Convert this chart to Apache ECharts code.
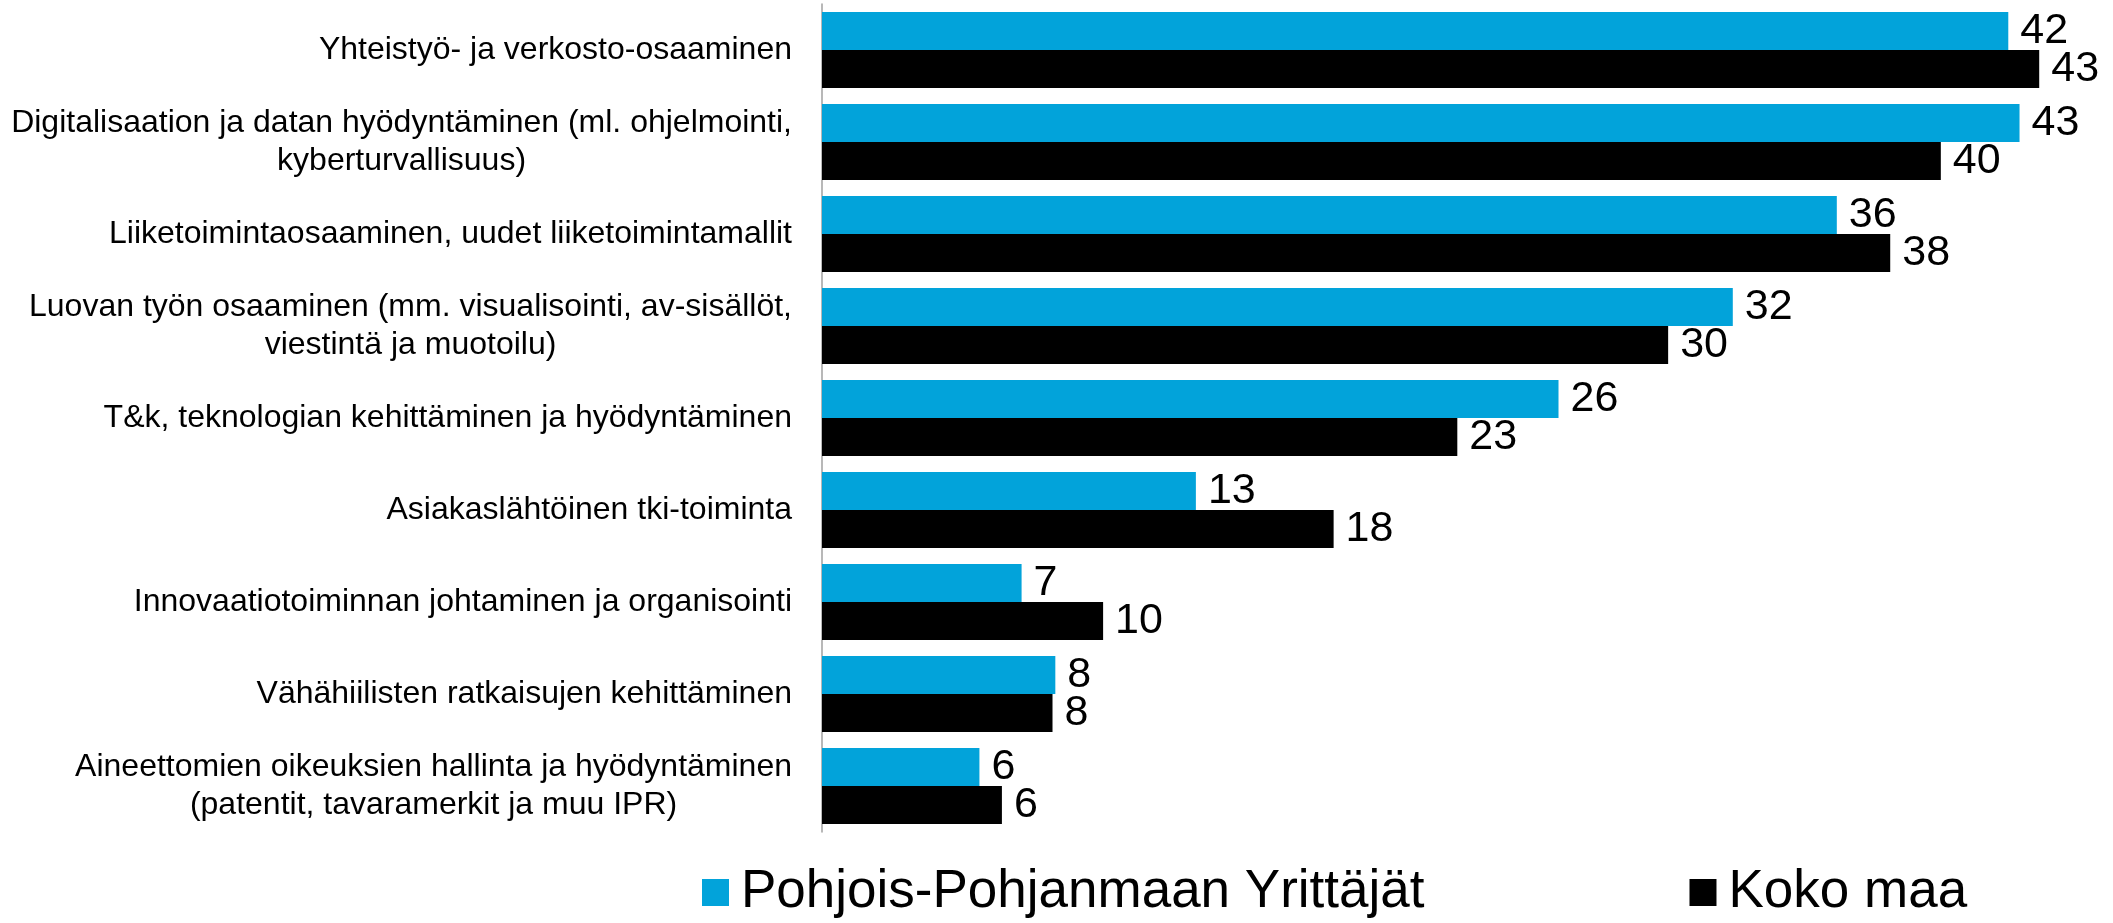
<!DOCTYPE html>
<html>
<head>
<meta charset="utf-8">
<script src="https://cdn.jsdelivr.net/npm/echarts@6/dist/echarts.min.js"></script>
<style>
  html, body { margin: 0; padding: 0; background: #fff; }
  #main { width: 2113px; height: 923px; }
</style>
</head>
<body>
<div id="main"></div>
<script>
// kategoriat ylhäältä alas
var categories = [
  'Yhteistyö- ja verkosto-osaaminen',
  'Digitalisaation ja datan hyödyntäminen (ml. ohjelmointi,\nkyberturvallisuus)',
  'Liiketoimintaosaaminen, uudet liiketoimintamallit',
  'Luovan työn osaaminen (mm. visualisointi, av-sisällöt,\nviestintä ja muotoilu)',
  'T&k, teknologian kehittäminen ja hyödyntäminen',
  'Asiakaslähtöinen tki-toiminta',
  'Innovaatiotoiminnan johtaminen ja organisointi',
  'Vähähiilisten ratkaisujen kehittäminen',
  'Aineettomien oikeuksien hallinta ja hyödyntäminen\n(patentit, tavaramerkit ja muu IPR)'
];
var seriesNames = ['Pohjois-Pohjanmaan Yrittäjät', 'Koko maa'];
var pohjois = [42.2, 42.6, 36.1, 32.4, 26.2, 13.3, 7.1, 8.3, 5.6];
var kokoMaa = [43.3, 39.8, 38.0, 30.1, 22.6, 18.2, 10.0, 8.2, 6.4];

var font = 'Arial, "Liberation Sans", sans-serif';

var myChart = echarts.init(document.getElementById('main'));

function valueLabel() {
    return {
        show: true,
        position: 'right',
        distance: 12,
        fontSize: 43,
        fontFamily: font,
        color: '#000',
        formatter: function (p) { return Math.round(p.value); }
    };
}

myChart.setOption({
    animation: false,
    grid: {
        left: 822, right: 26, top: 4, bottom: 91,
        containLabel: false,
        outerBoundsMode: 'none'
    },
    legend: {
        data: seriesNames,
        left: 697,
        top: 861,
        icon: 'rect',
        itemWidth: 27,
        itemHeight: 27,
        itemGap: 265,
        textStyle: {
            fontSize: 53,
            fontFamily: font,
            color: '#000',
            padding: [0, 0, 0, 7]
        }
    },
    xAxis: {
        type: 'value',
        min: 0,
        max: 45,
        show: false
    },
    yAxis: {
        type: 'category',
        inverse: true,
        data: categories,
        axisLine: { show: true, lineStyle: { color: '#a0a0a0', width: 1.5 } },
        axisTick: { show: false },
        axisLabel: {
            margin: 30,
            formatter: function (v) {
                return v.split('\n').map(function (s) { return '{c|' + s + '}'; }).join('\n');
            },
            rich: {
                c: {
                    align: 'center',
                    fontSize: 32,
                    lineHeight: 38,
                    fontFamily: font,
                    color: '#000'
                }
            }
        }
    },
    series: [
        {
            name: seriesNames[0],
            type: 'bar',
            data: pohjois,
            barWidth: 38,
            barGap: '0%',
            itemStyle: { color: '#02A3DA' },
            label: valueLabel()
        },
        {
            name: seriesNames[1],
            type: 'bar',
            data: kokoMaa,
            barWidth: 38,
            barGap: '0%',
            itemStyle: { color: '#000000' },
            label: valueLabel()
        }
    ]
});
</script>
</body>
</html>
